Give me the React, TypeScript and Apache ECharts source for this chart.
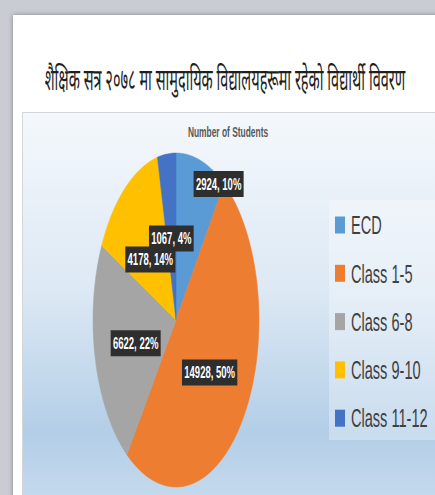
import React, { useEffect, useRef } from 'react';
import * as echarts from 'echarts';

const title = 'शैक्षिक सत्र २०७८ मा सामुदायिक विद्यालयहरूमा रहेको विद्यार्थी विवरण';
const chartTitle = 'Number of Students';
const categories = ['ECD', 'Class 1-5', 'Class 6-8', 'Class 9-10', 'Class 11-12'];
const students = [2924, 14928, 6622, 4178, 1067];
const colors = ['#5b9bd5', '#ed7d31', '#a5a5a5', '#ffc000', '#4472c4'];

const PIE = { cx: 176, cy: 320, rx: 83, ry: 167 };
const SQ = 0.56;
const LABEL_SHIFT = [[30, -60], [0, 0], [0, 0], [0, 1.5], [0, -2]];
const LABEL_DY = 3.5;
const FONT = "'Liberation Sans', Arial, sans-serif";
const DEVA = "'Noto Sans Devanagari', 'Noto Sans', 'Lohit Devanagari', sans-serif";

export default function App() {
  const ref = useRef<HTMLDivElement>(null);
  useEffect(() => {
    const chart = echarts.init(ref.current!, null, { renderer: 'svg' });
    const total = students.reduce((a, b) => a + b, 0);
    const starts: number[] = [];
    let acc = 0;
    students.forEach((v) => {
      starts.push(acc);
      acc += v;
    });

    const series = categories.map((name, i) => ({
      type: 'custom',
      name,
      coordinateSystem: 'none',
      data: [[students[i]]],
      itemStyle: { color: colors[i] },
      z: 2,
      renderItem: (params: any, api: any) => {
        const v = api.value(0);
        const a0 = (starts[i] / total) * Math.PI * 2;
        const a1 = a0 + (v / total) * Math.PI * 2;
        const pts: number[][] = [[PIE.cx, PIE.cy]];
        const n = Math.max(2, Math.ceil((a1 - a0) / (Math.PI / 180)));
        for (let k = 0; k <= n; k++) {
          const a = a0 + ((a1 - a0) * k) / n;
          pts.push([PIE.cx + PIE.rx * Math.sin(a), PIE.cy - PIE.ry * Math.cos(a)]);
        }
        const am = (a0 + a1) / 2;
        const lx = PIE.cx + 0.5 * PIE.rx * Math.sin(am) + LABEL_SHIFT[i][0];
        const ly = PIE.cy - 0.5 * PIE.ry * Math.cos(am) + LABEL_SHIFT[i][1] + LABEL_DY;
        const color = api.visual('color');
        return {
          type: 'group',
          children: [
            {
              type: 'polygon',
              shape: { points: pts },
              style: { fill: color, stroke: color, lineWidth: 0.5 },
            },
            {
              type: 'text',
              x: lx,
              y: ly,
              scaleX: SQ,
              z2: 10 + i,
              style: {
                text: `${v}, ${Math.round((v / total) * 100)}%`,
                fill: '#ffffff',
                font: `bold 17px ${FONT}`,
                lineHeight: 17,
                align: 'center',
                verticalAlign: 'middle',
                backgroundColor: '#2e2e2e',
                padding: [8, 4, 1, 4],
              },
            },
          ],
        };
      },
    }));

    const legendEls: any[] = [];
    categories.forEach((c, i) => {
      const yc = 225 + i * 48.3;
      legendEls.push({
        type: 'rect',
        shape: { x: 335, y: yc - 8.5, width: 10, height: 17 },
        style: { fill: colors[i] },
        z: 5,
      });
      legendEls.push({
        type: 'text',
        x: 351,
        y: yc,
        scaleX: SQ,
        z: 5,
        style: { text: c, font: `26px ${FONT}`, fill: '#404040', verticalAlign: 'middle', align: 'left' },
      });
    });

    chart.setOption({
      animation: false,
      backgroundColor: '#c9cdd3',
      graphic: [
        {
          type: 'rect',
          shape: { x: 13, y: 15, width: 440, height: 500 },
          style: { fill: '#ffffff', shadowBlur: 5, shadowColor: 'rgba(0,0,0,0.35)' },
          z: 0,
        },
        {
          type: 'rect',
          shape: { x: 22.5, y: 112.5, width: 430, height: 400 },
          style: {
            fill: new echarts.graphic.LinearGradient(0, 0, 0, 1, [
              { offset: 0, color: '#f4f8fc' },
              { offset: 0.45, color: '#dce8f4' },
              { offset: 0.8, color: '#b3cee7' },
              { offset: 1, color: '#c8dcef' },
            ]),
            stroke: '#d2d6db',
            lineWidth: 1,
          },
          z: 0,
        },
        {
          type: 'rect',
          shape: { x: 329, y: 200, width: 120, height: 240 },
          style: { fill: 'rgba(255,255,255,0.3)' },
          z: 1,
        },
        {
          type: 'text',
          x: 225,
          y: 83,
          scaleX: 0.485,
          z: 5,
          style: { text: title, font: `30px ${DEVA}`, fill: '#1e1e1e', align: 'center', verticalAlign: 'middle' },
        },
        {
          type: 'text',
          x: 228,
          y: 132,
          scaleX: SQ,
          z: 5,
          style: { text: chartTitle, font: `bold 15px ${FONT}`, fill: '#595959', align: 'center', verticalAlign: 'middle' },
        },
        ...legendEls,
      ],
      series,
    });
    return () => chart.dispose();
  }, []);
  return <div ref={ref} style={{ position: 'fixed', left: 0, top: 0, width: 435, height: 495 }} />;
}
